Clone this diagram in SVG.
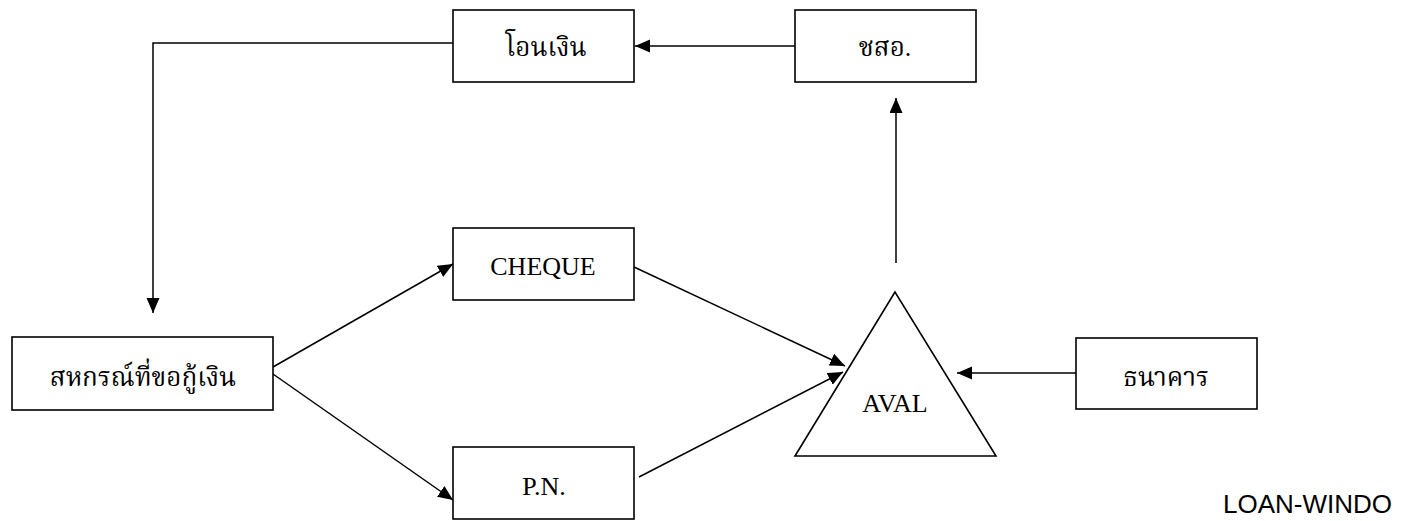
<svg xmlns="http://www.w3.org/2000/svg" width="1409" height="521" viewBox="0 0 1409 521">
<style>
.box{fill:#fff;stroke:#000;stroke-width:1.6}
.tri{fill:#fff;stroke:#000;stroke-width:1.6}
.lbl{font-family:"Liberation Serif","Noto Sans","DejaVu Serif",serif;font-size:26px;fill:#000;text-anchor:middle}
.th{font-family:"Liberation Serif","Noto Serif Thai","Noto Sans Thai","Noto Sans","DejaVu Sans",serif;font-size:26px;fill:#000;text-anchor:middle}
.wm{font-family:"Liberation Sans",Arial,sans-serif;font-size:26px;fill:#000}
.conn{fill:none;stroke:#000;stroke-width:1.5}
</style>
<defs>
<marker id="ah" markerUnits="userSpaceOnUse" markerWidth="16" markerHeight="14" refX="15" refY="6.5" orient="auto">
<path d="M0,0 L15,6.5 L0,13 Z" fill="#000"/>
</marker>
</defs>
<g id="connectors">
<polyline class="conn" points="453,43 153,43 153,313" marker-end="url(#ah)"/>
<line class="conn" x1="795" y1="46" x2="635" y2="46" marker-end="url(#ah)"/>
<line class="conn" x1="896" y1="263" x2="896" y2="98" marker-end="url(#ah)"/>
<line class="conn" x1="273" y1="367" x2="453" y2="264" marker-end="url(#ah)"/>
<line class="conn" x1="273" y1="374" x2="453" y2="500" marker-end="url(#ah)"/>
<line class="conn" x1="634" y1="267" x2="845" y2="366" marker-end="url(#ah)"/>
<line class="conn" x1="639" y1="477" x2="843" y2="372" marker-end="url(#ah)"/>
<line class="conn" x1="1076" y1="373" x2="957" y2="373" marker-end="url(#ah)"/>
</g>
<g id="node-transfer">
<rect class="box" x="453" y="10" width="181" height="72"/>
<text class="th" x="546" y="56">โอนเงิน</text>
</g>
<g id="node-chso">
<rect class="box" x="795" y="10" width="181" height="72"/>
<text class="th" x="885" y="56">ชสอ.</text>
</g>
<g id="node-coop">
<rect class="box" x="12" y="337" width="261" height="73"/>
<text class="th" x="143" y="386">สหกรณ์ที่ขอกู้เงิน</text>
</g>
<g id="node-cheque">
<rect class="box" x="453" y="228" width="181" height="72"/>
<text class="lbl" x="543" y="275">CHEQUE</text>
</g>
<g id="node-pn">
<rect class="box" x="453" y="447" width="181" height="72"/>
<text class="lbl" x="544" y="495">P.N.</text>
</g>
<g id="node-aval">
<polygon class="tri" points="895,292 795,456 996,456"/>
<text class="lbl" x="895" y="412">AVAL</text>
</g>
<g id="node-bank">
<rect class="box" x="1076" y="338" width="181" height="71"/>
<text class="th" x="1166" y="386">ธนาคาร</text>
</g>
<text class="wm" x="1223" y="513">LOAN-WINDO</text>
</svg>
